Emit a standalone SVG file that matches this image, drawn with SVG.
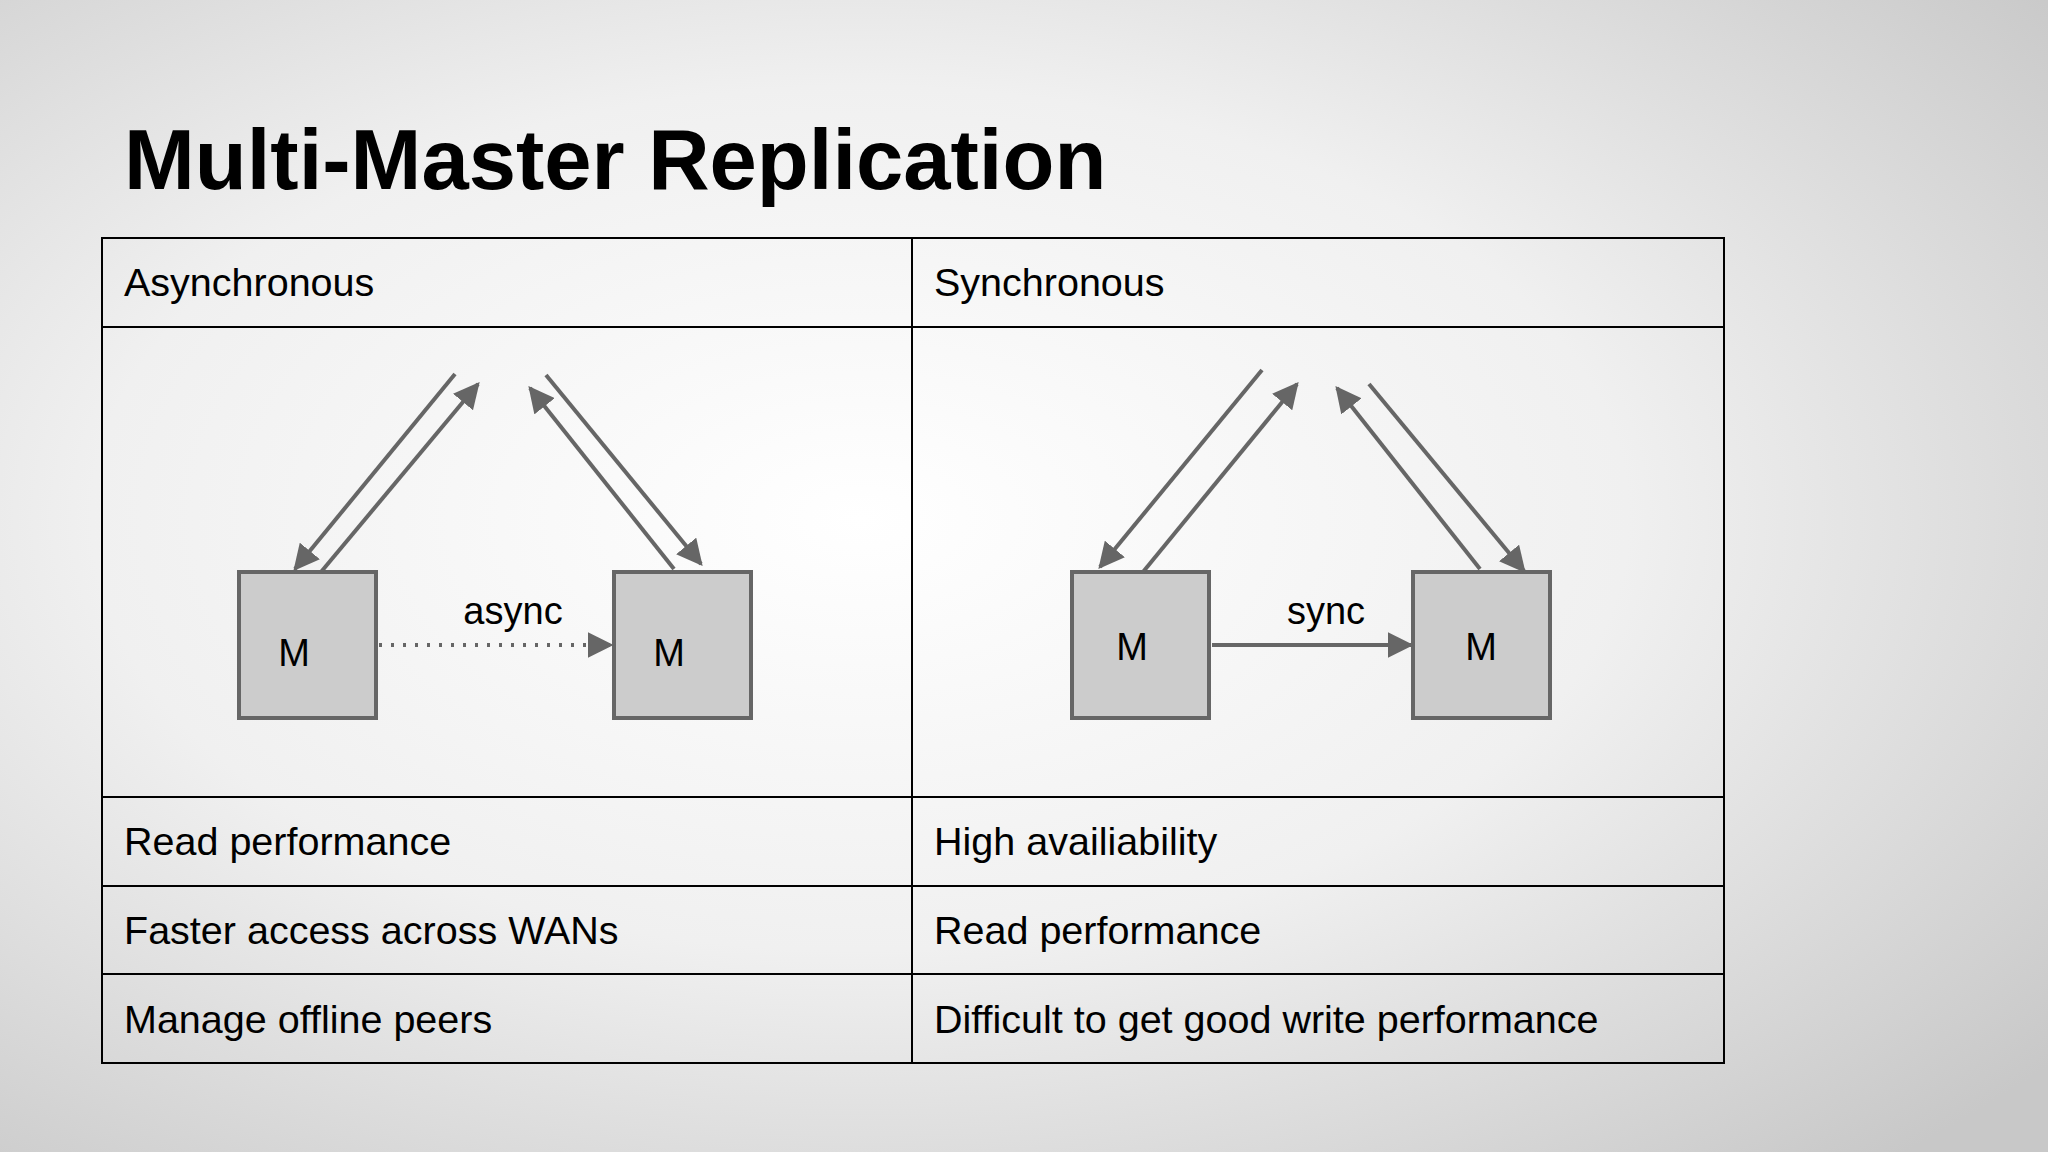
<svg xmlns="http://www.w3.org/2000/svg" width="2048" height="1152" viewBox="0 0 2048 1152">
<defs>
<radialGradient id="bg" cx="0.42" cy="0.45" r="0.75">
<stop offset="0" stop-color="#ffffff"/><stop offset="0.5" stop-color="#f0f0f0"/><stop offset="1" stop-color="#c8c8c8"/>
</radialGradient>
<marker id="ah" viewBox="0 0 10 10" refX="9" refY="5" markerWidth="6.5" markerHeight="6.5" markerUnits="strokeWidth" orient="auto"><path d="M0,0 L10,5 L0,10 z" fill="#666"/></marker>
<style>
.t{font-family:"Liberation Sans",Arial,sans-serif;font-size:39.5px;fill:#000}
.m{font-family:"Liberation Sans",Arial,sans-serif;font-size:38px;fill:#000;text-anchor:middle}
.ln{stroke:#666;stroke-width:4;fill:none;marker-end:url(#ah)}
.box{fill:#cccccc;stroke:#666;stroke-width:4}
.g{stroke:#000;stroke-width:2;fill:none}
</style>
</defs>
<rect width="2048" height="1152" fill="url(#bg)"/>
<text x="124" y="189" font-family="Liberation Sans,Arial,sans-serif" font-weight="bold" font-size="85" fill="#000">Multi-Master Replication</text>
<g id="table">
<rect class="g" x="102" y="238" width="1622" height="825"/>
<line class="g" x1="912" y1="238" x2="912" y2="1063"/>
<line class="g" x1="102" y1="327" x2="1724" y2="327"/>
<line class="g" x1="102" y1="797" x2="1724" y2="797"/>
<line class="g" x1="102" y1="886" x2="1724" y2="886"/>
<line class="g" x1="102" y1="974" x2="1724" y2="974"/>
<text class="t" x="124" y="296">Asynchronous</text>
<text class="t" x="934" y="296">Synchronous</text>
<text class="t" x="124" y="855">Read performance</text>
<text class="t" x="934" y="855">High availiability</text>
<text class="t" x="124" y="944">Faster access across WANs</text>
<text class="t" x="934" y="944">Read performance</text>
<text class="t" x="124" y="1033">Manage offline peers</text>
<text class="t" x="934" y="1033">Difficult to get good write performance</text>
</g>
<g id="m1"><rect class="box" x="239" y="572" width="137" height="146"/><text class="m" x="294" y="666">M</text></g>
<g id="m2"><rect class="box" x="614" y="572" width="137" height="146"/><text class="m" x="669" y="666">M</text></g>
<g id="m3"><rect class="box" x="1072" y="572" width="137" height="146"/><text class="m" x="1132" y="660">M</text></g>
<g id="m4"><rect class="box" x="1413" y="572" width="137" height="146"/><text class="m" x="1481" y="660">M</text></g>
<g id="connectors">
<line class="ln" x1="455" y1="374" x2="295" y2="569"/>
<line class="ln" x1="321" y1="572" x2="478" y2="384"/>
<line class="ln" x1="546" y1="375" x2="701" y2="564"/>
<line class="ln" x1="674" y1="569" x2="530" y2="388"/>
<line class="ln" x1="1262" y1="370" x2="1100" y2="567"/>
<line class="ln" x1="1143" y1="572" x2="1297" y2="384"/>
<line class="ln" x1="1369" y1="384" x2="1524" y2="571"/>
<line class="ln" x1="1480" y1="569" x2="1337" y2="388"/>
<line class="ln" x1="379" y1="645" x2="611" y2="645" stroke-dasharray="3 9"/>
<line class="ln" x1="1212" y1="645" x2="1411" y2="645"/>
<text class="m" x="513" y="624">async</text>
<text class="m" x="1326" y="624">sync</text>
</g>
</svg>
